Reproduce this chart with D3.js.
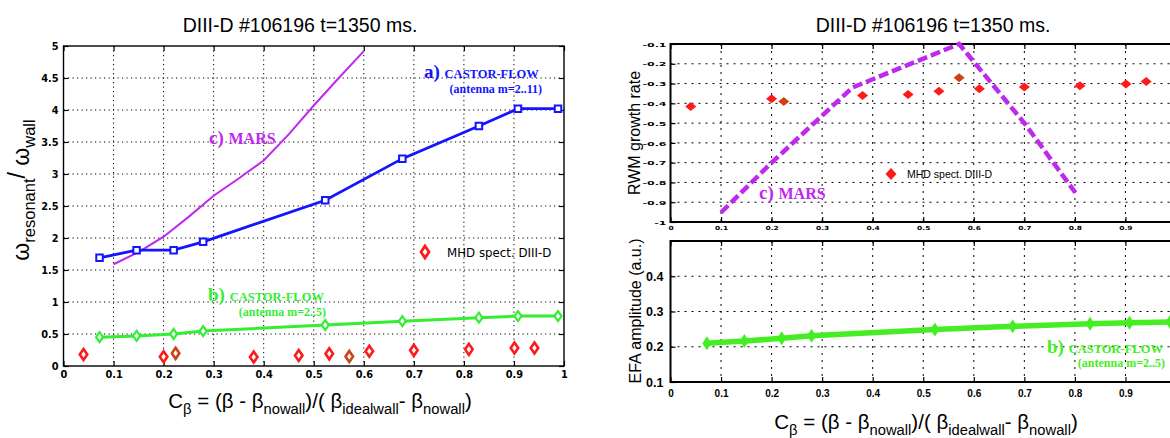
<!DOCTYPE html>
<html>
<head>
<meta charset="utf-8">
<script src="https://cdn.jsdelivr.net/npm/d3@7"></script>
<style>
  body { margin: 0; background: #fff; }
  svg { display: block; font-family: "Liberation Sans", Arial, Helvetica, sans-serif; }
</style>
</head>
<body>
<div id="container"></div>
<script>
/* CONSTANTS AND GLOBALS */
const width = 1170, height = 438;

/* DATA */
// CASTOR-FLOW runs, C_beta positions shared by both antenna sets
const castorC = [0.072, 0.146, 0.22, 0.279, 0.523, 0.677, 0.83, 0.908, 0.988];
const castorFreqA = [1.69, 1.81, 1.81, 1.94, 2.59, 3.24, 3.75, 4.02, 4.02];   // antenna m=2..11
const castorFreqB = [0.45, 0.47, 0.50, 0.545, 0.64, 0.70, 0.755, 0.78, 0.78]; // antenna m=2..5
const castorEFA = [0.21, 0.216, 0.224, 0.231, 0.249, 0.258, 0.265, 0.268, 0.27];

// MARS
const marsFreqC = [0.1, 0.15, 0.2, 0.25, 0.3, 0.35, 0.4, 0.45, 0.5, 0.55, 0.6];
const marsFreq = [1.59, 1.78, 2.02, 2.33, 2.66, 2.93, 3.21, 3.62, 4.07, 4.5, 4.92];
const marsGrowthC = [0.1, 0.2, 0.36, 0.571, 0.7, 0.801];
const marsGrowth = [-0.952, -0.70, -0.32, -0.1, -0.5, -0.852];

// MHD spectroscopy DIII-D
const mhdC = [0.04, 0.2, 0.224, 0.38, 0.47, 0.531, 0.571, 0.611, 0.70, 0.81, 0.901, 0.941];
const mhdFreq = [0.18, 0.145, 0.198, 0.14, 0.165, 0.19, 0.15, 0.23, 0.245, 0.26, 0.281, 0.281];
const mhdGrowth = [-0.416, -0.377, -0.391, -0.36, -0.355, -0.339, -0.271, -0.326, -0.318, -0.311, -0.302, -0.29];
const mhdShade = ["a", "a", "b", "a", "a", "a", "b", "a", "a", "a", "a", "a"];

// tick values
const cTicks = [0, 0.1, 0.2, 0.3, 0.4, 0.5, 0.6, 0.7, 0.8, 0.9, 1];
const freqTicks = [0, 0.5, 1, 1.5, 2, 2.5, 3, 3.5, 4, 4.5, 5];
const growthTicks = [-1, -0.9, -0.8, -0.7, -0.6, -0.5, -0.4, -0.3, -0.2, -0.1];
const efaTicks = [0.1, 0.2, 0.3, 0.4];

const title = "DIII-D #106196 t=1350 ms.";

/* COLOURS */
const blue = "#1414ff", green = "#33ee33", greenThick = "#44ee22", purple = "#bf28ee",
  red = "#ff1a1a", darkRed = "#cc4414";

/* SCALES */
const xL = d3.scaleLinear().domain([0, 1]).range([63.5, 564]);
const yL = d3.scaleLinear().domain([0, 5]).range([366, 46]);
const xR = d3.scaleLinear().domain([0, 1]).range([670.5, 1176]);
const yRT = d3.scaleLinear().domain([-1, -0.1]).range([222, 44]);
const yRB = d3.scaleLinear().domain([0.1, 0.5]).range([382, 241]);

const svg = d3.select("#container").append("svg")
  .attr("width", width).attr("height", height);

const fmt = d => d3.format("~g")(d).replace("\u2212", "-");
const diamond = (w, h) => `M0,${-h / 2}L${w / 2},0L0,${h / 2}L${-w / 2},0Z`;
const square = s => `M${-s / 2},${-s / 2}h${s}v${s}h${-s}Z`;

// grid + frame + inward ticks for one panel
function panel(x, y, xt, yt, dash, sw) {
  const g = svg.append("g");
  const [x0, x1] = x.range(), [y1, y0] = y.range();
  g.selectAll(".gx").data(xt.filter(d => x(d) > x0 + 1 && x(d) < x1 - 1)).join("line")
    .attr("x1", d => x(d)).attr("x2", d => x(d)).attr("y1", y0).attr("y2", y1)
    .attr("stroke", "#000").attr("stroke-width", 1).attr("stroke-dasharray", dash);
  g.selectAll(".gy").data(yt.filter(d => y(d) > y0 + 1 && y(d) < y1 - 1)).join("line")
    .attr("x1", x0).attr("x2", x1).attr("y1", d => y(d)).attr("y2", d => y(d))
    .attr("stroke", "#000").attr("stroke-width", 1).attr("stroke-dasharray", dash);
  // inward ticks
  const tk = (a) => a.tickSize(-5).tickFormat("");
  [[d3.axisBottom(x).tickValues(xt), `translate(0,${y1})`],
   [d3.axisTop(x).tickValues(xt), `translate(0,${y0})`],
   [d3.axisLeft(y).tickValues(yt), `translate(${x0},0)`],
   [d3.axisRight(y).tickValues(yt), `translate(${x1},0)`]].forEach(([a, t]) => {
    const ag = g.append("g").attr("transform", t).call(tk(a));
    ag.select(".domain").remove();
    ag.selectAll("line").attr("stroke-width", 1.2);
  });
  g.append("rect").attr("x", x0).attr("y", y0).attr("width", x1 - x0).attr("height", y1 - y0)
    .attr("fill", "none").attr("stroke", "#000").attr("stroke-width", sw);
  return g;
}

function tickLabels(axis, pos, style) {
  const ag = svg.append("g").attr("transform", pos).call(axis);
  ag.select(".domain").remove();
  ag.selectAll("line").remove();
  ag.selectAll("text").attr("font-family", style.family).attr("font-size", style.size)
    .attr("font-weight", "bold").attr("fill", "#000");
  return ag;
}

/* LEFT PANEL */
panel(xL, yL, cTicks, freqTicks, "1.2,3.3", 1.4);
const leftFont = { family: "'DejaVu Sans', sans-serif", size: 9.8 };
tickLabels(d3.axisBottom(xL).tickValues(cTicks).tickFormat(fmt).tickSize(0).tickPadding(5),
  `translate(0,${yL.range()[0]})`, leftFont);
tickLabels(d3.axisLeft(yL).tickValues(freqTicks).tickFormat(fmt).tickSize(0).tickPadding(5),
  `translate(${xL.range()[0]},0)`, leftFont);

const lineL = (xs, ys) => d3.line().x((d, i) => xL(xs[i])).y(d => yL(d))(ys);

svg.append("path").attr("d", lineL(marsFreqC, marsFreq))
  .attr("fill", "none").attr("stroke", purple).attr("stroke-width", 2);

svg.append("path").attr("d", lineL(castorC, castorFreqA))
  .attr("fill", "none").attr("stroke", blue).attr("stroke-width", 2.8);
svg.selectAll(".sqA").data(castorFreqA).join("path")
  .attr("d", square(6.5))
  .attr("transform", (d, i) => `translate(${xL(castorC[i])},${yL(d)})`)
  .attr("fill", "#fff").attr("stroke", blue).attr("stroke-width", 2);

svg.append("path").attr("d", lineL(castorC, castorFreqB))
  .attr("fill", "none").attr("stroke", green).attr("stroke-width", 3);
svg.selectAll(".dmB").data(castorFreqB).join("path")
  .attr("d", diamond(7, 10))
  .attr("transform", (d, i) => `translate(${xL(castorC[i])},${yL(d)})`)
  .attr("fill", "#fff").attr("stroke", green).attr("stroke-width", 2.2);

svg.selectAll(".mhdL").data(mhdFreq).join("path")
  .attr("d", diamond(7.5, 11))
  .attr("transform", (d, i) => `translate(${xL(mhdC[i])},${yL(d)})`)
  .attr("fill", "#fff").attr("stroke", (d, i) => mhdShade[i] === "b" ? darkRed : red)
  .attr("stroke-width", 2.6);

// legend
svg.append("path").attr("d", diamond(8, 12)).attr("transform", "translate(425,252)")
  .attr("fill", "#fff").attr("stroke", red).attr("stroke-width", 2.8);
svg.append("text").attr("x", 447).attr("y", 256.5)
  .attr("font-family", "'DejaVu Sans', sans-serif").attr("font-size", 11.8)
  .text("MHD spect. DIII-D");

// annotations
function note(x, y, letter, name, sub, color) {
  const t = svg.append("text").attr("x", x).attr("y", y)
    .attr("font-family", "'Liberation Serif', 'Times New Roman', serif")
    .attr("font-weight", "bold").attr("fill", color);
  t.append("tspan").attr("font-size", 19).text(letter + " ");
  t.append("tspan").attr("font-size", name === "MARS" ? 16 : 12.5).text(name);
  if (sub) {
    svg.append("text").attr("x", x + 118).attr("y", y + sub.dy).attr("text-anchor", "end")
      .attr("font-family", "'Liberation Serif', 'Times New Roman', serif")
      .attr("font-weight", "bold").attr("font-size", 12).attr("fill", color)
      .text(sub.text);
  }
}
note(424, 78, "a)", "CASTOR-FLOW", { text: "(antenna m=2..11)", dy: 15 }, blue);
note(208, 301, "b)", "CASTOR-FLOW", { text: "(antenna m=2..5)", dy: 15 }, green);
note(209, 144, "c)", "MARS", null, purple);

/* RIGHT TOP PANEL */
panel(xR, yRT, cTicks, growthTicks, "2,5", 2);
const rtY = tickLabels(d3.axisLeft(yRT).tickValues(growthTicks).tickFormat(fmt).tickSize(0).tickPadding(0),
  `translate(${xR.range()[0] - 4},0)`, { family: "'DejaVu Sans', sans-serif", size: 10.5 });
rtY.selectAll("text").attr("x", 0).attr("dy", null).attr("transform", "translate(0,2.2) scale(1.05,0.55)");
const rtX = tickLabels(d3.axisBottom(xR).tickValues(cTicks.slice(0, 10)).tickFormat(fmt).tickSize(0),
  `translate(0,${yRT.range()[0]})`, { family: "'DejaVu Sans', sans-serif", size: 7.5 });
rtX.selectAll("text").attr("y", 0).attr("dy", null).attr("transform", "translate(0,7.5) scale(1,0.75)");

svg.append("path")
  .attr("d", d3.line().x((d, i) => xR(marsGrowthC[i])).y(d => yRT(d))(marsGrowth))
  .attr("fill", "none").attr("stroke", purple).attr("stroke-width", 4.5)
  .attr("stroke-dasharray", "10,4");

svg.selectAll(".mhdR").data(mhdGrowth).join("path")
  .attr("d", diamond(11, 9))
  .attr("transform", (d, i) => `translate(${xR(mhdC[i])},${yRT(d)})`)
  .attr("fill", (d, i) => mhdShade[i] === "b" ? darkRed : red);

svg.append("path").attr("d", diamond(11, 12)).attr("transform", "translate(891,174)")
  .attr("fill", red);
svg.append("text").attr("x", 907).attr("y", 178).attr("font-size", 10.5)
  .text("MHD spect. DIII-D");
note(759, 199, "c)", "MARS", null, purple);

/* RIGHT BOTTOM PANEL */
panel(xR, yRB, cTicks, efaTicks, "2,5", 2);
tickLabels(d3.axisLeft(yRB).tickValues(efaTicks).tickFormat(fmt).tickSize(0).tickPadding(7),
  `translate(${xR.range()[0]},0)`, { family: "'Liberation Sans', Arial, sans-serif", size: 12.5 });
tickLabels(d3.axisBottom(xR).tickValues(cTicks.slice(0, 10)).tickFormat(fmt).tickSize(0).tickPadding(8),
  `translate(0,${yRB.range()[0]})`, { family: "'Liberation Sans', Arial, sans-serif", size: 10 });

svg.append("path")
  .attr("d", d3.line().x((d, i) => xR(castorC[i])).y(d => yRB(d))(castorEFA))
  .attr("fill", "none").attr("stroke", greenThick).attr("stroke-width", 5.5);
svg.selectAll(".efa").data(castorEFA).join("path")
  .attr("d", diamond(9, 14))
  .attr("transform", (d, i) => `translate(${xR(castorC[i])},${yRB(d)})`)
  .attr("fill", greenThick);
note(1047, 353, "b)", "CASTOR-FLOW", { text: "(antenna m=2..5)", dy: 14 }, greenThick);

/* TITLES AND AXIS LABELS */
[300, 933].forEach(cx => {
  svg.append("text").attr("x", cx).attr("y", 32).attr("text-anchor", "middle")
    .attr("font-size", 19.5).text(title);
});

function cLabel(cx, y, fs) {
  const t = svg.append("text").attr("x", cx).attr("y", y).attr("text-anchor", "middle")
    .attr("font-size", fs);
  const sub = fs * 0.72, sh = fs * 0.3;
  const parts = [["C"], ["β", 1], [" = (β -  β"], ["nowall", 1], [")/( β"], ["idealwall", 1],
    ["-  β"], ["nowall", 1], [")"]];
  let low = false;
  parts.forEach(([s, isSub]) => {
    const ts = t.append("tspan").text(s);
    if (isSub && !low) { ts.attr("dy", sh).attr("font-size", sub); low = true; }
    else if (!isSub && low) { ts.attr("dy", -sh); low = false; }
  });
}
cLabel(320, 408, 20.5);
cLabel(926, 429, 20.5);

// left y label
const yl = svg.append("text").attr("transform", "translate(29,190) rotate(-90)")
  .attr("text-anchor", "middle").attr("font-size", 23);
yl.append("tspan").text("ω");
yl.append("tspan").attr("dy", 6).attr("font-size", 16.5).text("resonant");
yl.append("tspan").attr("dy", -10).text("/ ");
yl.append("tspan").attr("dy", 4).text("ω");
yl.append("tspan").attr("dy", 6).attr("font-size", 16.5).text("wall");

svg.append("text").attr("transform", `translate(640,${(yRT.range()[0] + yRT.range()[1]) / 2}) rotate(-90)`)
  .attr("text-anchor", "middle").attr("font-size", 16).text("RWM growth rate");
svg.append("text").attr("transform", "translate(641,311) rotate(-90)")
  .attr("text-anchor", "middle").attr("font-size", 16).text("EFA amplitude (a.u.)");
</script>
</body>
</html>
